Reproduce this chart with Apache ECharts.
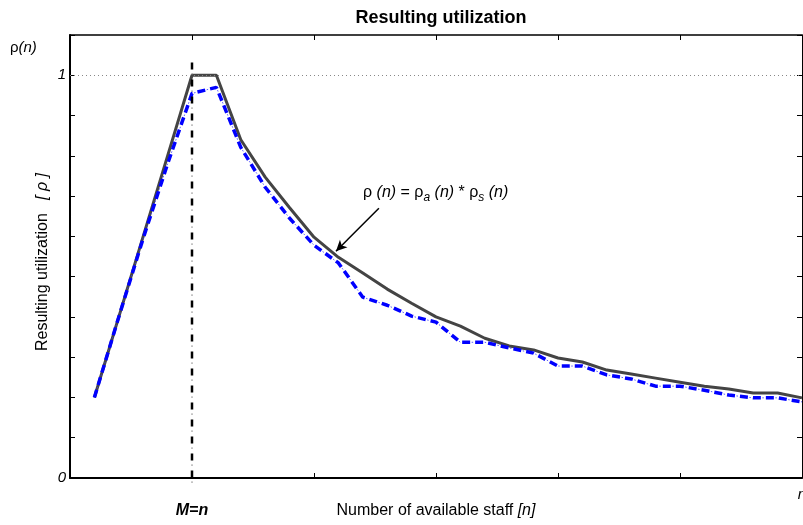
<!DOCTYPE html>
<html>
<head>
<meta charset="utf-8">
<script src="https://cdn.jsdelivr.net/npm/echarts@6/dist/echarts.min.js"></script>
<style>
html,body{margin:0;padding:0;background:#fff}
#chart{width:803px;height:525px}
</style>
</head>
<body>
<div id="chart"></div>
<script>
// n = number of available staff
var staff = [1,2,3,4,5,6,7,8,9,10,11,12,13,14,15,16,17,18,19,20,21,22,23,24,25,26,27,28,29,30];
// rho(n), solid curve
var rhoTotal = [0.20,0.40,0.60,0.80,1.00,1.00,0.84,0.747,0.671,0.598,0.548,0.509,0.469,0.434,0.40,
  0.377,0.347,0.328,0.318,0.298,0.288,0.268,0.258,0.248,0.238,0.228,0.221,0.211,0.211,0.199];
// rho_a(n) * rho_s(n), dash-dot curve
var rhoProduct = [0.20,0.40,0.595,0.78,0.955,0.970,0.821,0.722,0.645,0.578,0.534,0.449,0.429,0.402,0.387,
  0.337,0.337,0.323,0.310,0.278,0.278,0.256,0.246,0.228,0.228,0.218,0.206,0.199,0.199,0.189];

var M = 5;                       // M = n
var mLine = [1.032, 0, -0.035];  // top, axis, bottom of the M=n marker
var arrowFrom = [12.66, 0.67];
var arrowTo = [10.9, 0.563];

var FONT = "'Liberation Sans', Arial, Helvetica, sans-serif";

function pairs(xs, ys) {
  var res = [];
  for (var i = 0; i < xs.length; i++) res.push([xs[i], ys[i]]);
  return res;
}

var dom = document.getElementById('chart');
var myChart = echarts.init(dom);

var option = {
  animation: false,
  backgroundColor: '#fff',
  title: {
    text: 'Resulting utilization',
    left: 436,
    textAlign: 'center',
    top: 4,
    textStyle: {fontSize: 18, fontWeight: 'bold', color: '#000', fontFamily: FONT}
  },
  grid: {left: 70, right: 1, top: 35, bottom: 47, outerBoundsMode: 'none'},
  xAxis: [
    {
      type: 'value', position: 'bottom', min: 0, max: 30, interval: 5,
      axisLine: {show: true, onZero: false, lineStyle: {color: '#000', width: 2}},
      axisTick: {show: true, inside: true, length: 5, lineStyle: {color: '#000'}},
      splitLine: {show: false},
      axisLabel: {
        margin: 25, color: '#000', fontSize: 16, fontWeight: 'bold', fontStyle: 'italic', fontFamily: FONT,
        formatter: function (v) { return v === M ? 'M=n' : ''; }
      },
      name: 'Number of available staff {i|[n]}',
      nameLocation: 'middle',
      nameGap: 25,
      nameMoveOverlap: false,
      nameTextStyle: {
        color: '#000', fontSize: 16, fontFamily: FONT, verticalAlign: 'top',
        rich: {i: {fontStyle: 'italic', fontSize: 16, color: '#000', fontFamily: FONT}}
      }
    },
    {
      type: 'value', position: 'top', min: 0, max: 30, interval: 5,
      axisLine: {show: true, onZero: false, lineStyle: {color: '#000', width: 1.5}},
      axisTick: {show: true, inside: true, length: 5, lineStyle: {color: '#000'}},
      splitLine: {show: false},
      axisLabel: {show: false}
    },
    {
      type: 'value', position: 'bottom', min: 0, max: 30, interval: 5,
      axisLine: {show: false, onZero: false}, axisTick: {show: false}, splitLine: {show: false},
      axisLabel: {
        margin: 9, color: '#000', fontSize: 15, fontStyle: 'italic', fontFamily: FONT,
        showMaxLabel: true,
        formatter: function (v) { return v === 30 ? 'n' : ''; }
      }
    }
  ],
  yAxis: [
    {
      type: 'value', position: 'left', min: 0, max: 1.1, interval: 0.1,
      axisLine: {show: true, onZero: false, lineStyle: {color: '#000', width: 2}},
      axisTick: {show: true, inside: true, length: 5, lineStyle: {color: '#000'}},
      splitLine: {show: false},
      axisLabel: {
        margin: 4, color: '#000', fontSize: 15, fontStyle: 'italic', fontFamily: FONT,
        formatter: function (v) {
          if (Math.abs(v - 1) < 1e-6) return '1';
          if (Math.abs(v) < 1e-6) return '0';
          return '';
        }
      }
    },
    {
      type: 'value', position: 'right', min: 0, max: 1.1, interval: 0.1,
      axisLine: {show: true, onZero: false, lineStyle: {color: '#000', width: 1}},
      axisTick: {show: true, inside: true, length: 5, lineStyle: {color: '#000'}},
      splitLine: {show: false},
      axisLabel: {show: false}
    }
  ],
  graphic: [
    {
      type: 'text', x: 10, y: 48,
      style: {
        text: 'ρ{i|(n)}', fill: '#000', fontSize: 15, fontFamily: FONT, verticalAlign: 'middle',
        rich: {i: {fontStyle: 'italic', fontSize: 15, fontFamily: FONT, fill: '#000'}}
      }
    },
    {
      type: 'text', x: 43, y: 262, rotation: Math.PI / 2,
      style: {
        text: 'Resulting utilization   {i|[ ρ ]}', fill: '#000', fontSize: 16, fontFamily: FONT,
        align: 'center', verticalAlign: 'middle',
        rich: {i: {fontStyle: 'italic', fontSize: 16, fontFamily: FONT, fill: '#000'}}
      }
    },
    {
      type: 'text', x: 363, y: 193,
      style: {
        text: 'ρ {i|(n)} = ρ{s|a} {i|(n)} * ρ{s|s} {i|(n)}',
        fill: '#000', fontSize: 16, fontFamily: FONT, verticalAlign: 'middle',
        rich: {
          i: {fontStyle: 'italic', fontSize: 16, fontFamily: FONT, fill: '#000'},
          s: {fontStyle: 'italic', fontSize: 12, lineHeight: 12, padding: [10, 0, 0, 0], fontFamily: FONT, fill: '#000'}
        }
      }
    }
  ],
  series: [
    {
      name: 'rho', type: 'line', xAxisIndex: 0, yAxisIndex: 0,
      data: pairs(staff, rhoTotal),
      symbol: 'none', z: 3,
      lineStyle: {color: '#444', width: 3},
      markLine: {
        silent: true, symbol: ['none', 'none'], animation: false,
        label: {show: false},
        data: [
          {yAxis: 1, lineStyle: {color: '#888', width: 1, type: [1, 3]}},
          [
            {coord: arrowFrom, symbol: 'none', lineStyle: {color: '#000', width: 1.5, type: 'solid'}},
            {coord: arrowTo, symbol: 'arrow', symbolSize: [8, 11], lineStyle: {color: '#000', width: 1.5, type: 'solid'}}
          ]
        ]
      }
    },
    {
      name: 'product', type: 'line', xAxisIndex: 0, yAxisIndex: 0,
      data: pairs(staff, rhoProduct),
      symbol: 'none', z: 4,
      lineStyle: {color: '#0000ff', width: 3.5, type: [8, 5]}
    },
    {
      name: 'product dots', type: 'line', xAxisIndex: 0, yAxisIndex: 0,
      data: pairs(staff, rhoProduct),
      symbol: 'none', z: 4,
      lineStyle: {color: '#3333ff', width: 1, type: [1.5, 11.5], dashOffset: 3.5, opacity: 0.8}
    },
    {
      name: 'M', type: 'line', xAxisIndex: 0, yAxisIndex: 0,
      data: [[M, mLine[0]], [M, mLine[1]]],
      symbol: 'none', z: 5,
      lineStyle: {color: '#000', width: 2.5, type: [7, 10]}
    },
    {
      name: 'M dots', type: 'line', xAxisIndex: 0, yAxisIndex: 0,
      data: [[M, mLine[0]], [M, mLine[2]]],
      symbol: 'none', z: 5, clip: false,
      lineStyle: {color: '#777', width: 1, type: [1.5, 15.5], dashOffset: 6}
    }
  ]
};

myChart.setOption(option, true);
</script>
</body>
</html>
